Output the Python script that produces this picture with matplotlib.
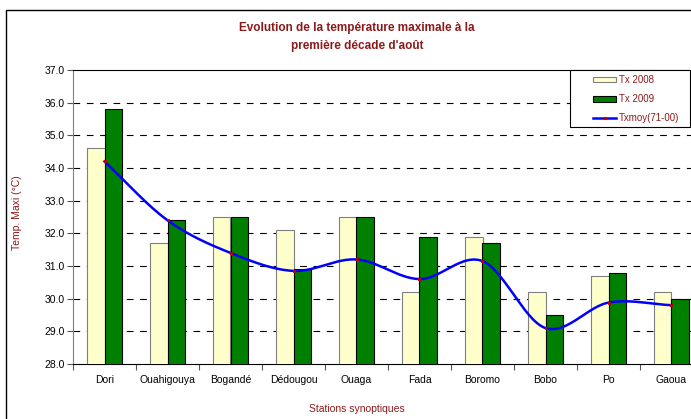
import numpy as np
import matplotlib
matplotlib.use("Agg")
import matplotlib.pyplot as plt
from matplotlib.patches import Rectangle

plt.rcParams['font.family'] = ['Liberation Sans', 'DejaVu Sans']

# data
stations = ["Dori", "Ouahigouya", "Bogandé", "Dédougou", "Ouaga",
            "Fada", "Boromo", "Bobo", "Po", "Gaoua"]
tx_2008 = [34.6, 31.7, 32.5, 32.1, 32.5, 30.2, 31.9, 30.2, 30.7, 30.2]
tx_2009 = [35.8, 32.4, 32.5, 30.9, 32.5, 31.9, 31.7, 29.5, 30.8, 30.0]
tx_moy = [34.2, 32.4, 31.4, 30.85, 31.2, 30.6, 31.15, 29.1, 29.88, 29.8]
yticks = np.arange(28, 38, 1.0)

red = "#8B1A1A"


def smooth(xs, ys, n=30):
    # catmull-rom curve like excel "smoothed line"
    xs = np.asarray(xs, float)
    ys = np.asarray(ys, float)
    px = np.concatenate([[2 * xs[0] - xs[1]], xs, [2 * xs[-1] - xs[-2]]])
    py = np.concatenate([[2 * ys[0] - ys[1]], ys, [2 * ys[-1] - ys[-2]]])
    ox, oy = [], []
    for i in range(1, len(px) - 2):
        t = np.linspace(0, 1, n, endpoint=False)
        for p, o in ((px, ox), (py, oy)):
            p0, p1, p2, p3 = p[i - 1], p[i], p[i + 1], p[i + 2]
            m1 = (p2 - p0) / 2
            m2 = (p3 - p1) / 2
            h00 = 2 * t**3 - 3 * t**2 + 1
            h10 = t**3 - 2 * t**2 + t
            h01 = -2 * t**3 + 3 * t**2
            h11 = t**3 - t**2
            o.extend(h00 * p1 + h10 * m1 + h01 * p2 + h11 * m2)
    ox.append(xs[-1])
    oy.append(ys[-1])
    return np.array(ox), np.array(oy)


fig = plt.figure(figsize=(6.91, 4.19), dpi=100)
# outer chart border
fig.patches.append(Rectangle((6 / 691, -0.1), 1.2, 1.1 - 10 / 419,
                             transform=fig.transFigure, fill=False,
                             edgecolor="black", linewidth=1.0))

ax = fig.add_axes([73 / 691, 1 - 364 / 419, 630 / 691, 294 / 419])

x = np.arange(len(stations))
w = 0.28
b1 = ax.bar(x - w / 2, tx_2008, w, color="#FFFFCC", edgecolor="#7f7f7f",
            linewidth=0.8, label="Tx 2008", zorder=3)
b2 = ax.bar(x + w / 2, tx_2009, w, color="#008000", edgecolor="black",
            linewidth=0.8, label="Tx 2009", zorder=3)
sx, sy = smooth(x, tx_moy)
ax.plot(sx, sy, color="#0000FF", linewidth=1.8, zorder=4)
ax.plot(x, tx_moy, linestyle="none", marker="s", markersize=1.2,
        color="#C00000", zorder=5)
ln, = ax.plot([], [], color="#0000FF", linewidth=1.8, marker="s",
              markersize=1.2, markerfacecolor="#C00000",
              markeredgecolor="#C00000", label="Txmoy(71-00)")

ax.set_xlim(-0.5, len(stations) - 0.5)
ax.set_ylim(28, 37)
ax.set_yticks(yticks)
ax.set_yticklabels([f"{v:.1f}" for v in yticks], fontsize=7.5)
ax.set_xticks(np.arange(len(stations) + 1) - 0.5)
ax.set_xticklabels([])
ax.set_xticks(x, minor=True)
ax.set_xticklabels(stations, minor=True, fontsize=7.5)
ax.tick_params(axis="x", which="minor", length=0, pad=8)
ax.tick_params(axis="x", which="major", length=4, width=0.8, color="#555555")
ax.tick_params(axis="y", length=4, width=0.8, color="#555555", pad=2)

for v in yticks[1:-1]:
    ax.axhline(v, color="black", linewidth=0.8, dashes=(6, 6), zorder=1)

ax.spines["left"].set_color("#7f7f7f")
ax.spines["top"].set_color("black")
ax.spines["bottom"].set_color("black")
ax.spines["right"].set_visible(False)

fig.text(357 / 691, 1 - 28 / 419, "Evolution de la température maximale à la",
         ha="center", va="center", fontsize=8.5, fontweight="bold", color=red)
fig.text(357 / 691, 1 - 46 / 419, "première décade d'août",
         ha="center", va="center", fontsize=8.5, fontweight="bold", color=red)
fig.text(357 / 691, 1 - 409 / 419, "Stations synoptiques", ha="center",
         va="center", fontsize=7.5, color=red)
fig.text(17 / 691, 1 - 213 / 419, "Temp. Maxi (°C)", ha="center",
         va="center", rotation=90, fontsize=7.5, color=red)

# legend box drawn separately so it can be as wide as the original
ax.add_patch(Rectangle((570 / 691, 1 - 127 / 419), 120 / 691, 57 / 419,
                       transform=fig.transFigure, facecolor="white",
                       edgecolor="black", linewidth=0.8, zorder=6,
                       clip_on=False))
leg = ax.legend([b1, b2, ln], ["Tx 2008", "Tx 2009", "Txmoy(71-00)"],
                loc="upper left", bbox_to_anchor=(591 / 691, 1 - 73 / 419),
                bbox_transform=fig.transFigure, fontsize=7, frameon=False,
                handlelength=2.4, handleheight=0.55, borderpad=0.2,
                labelspacing=0.95, handletextpad=0.25, borderaxespad=0)
leg.set_zorder(7)
for t in leg.get_texts():
    t.set_color(red)

fig.savefig("out.png", dpi=100)
